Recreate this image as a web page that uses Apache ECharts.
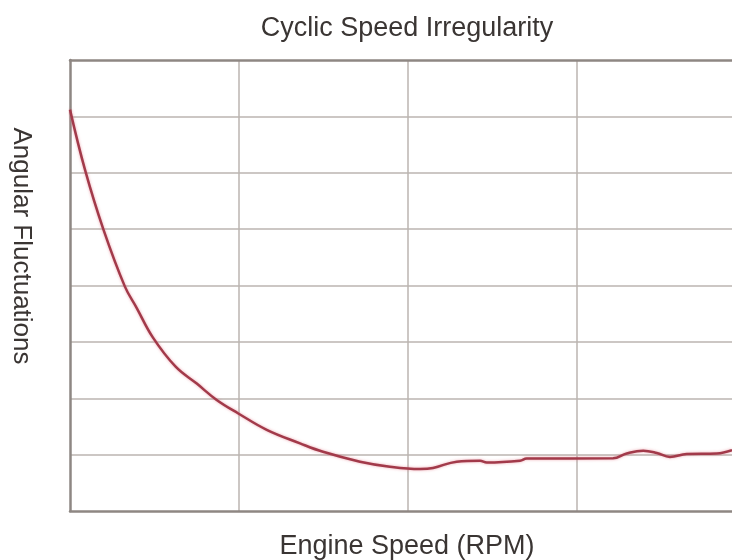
<!DOCTYPE html>
<html>
<head>
<meta charset="utf-8">
<script src="https://cdn.jsdelivr.net/npm/echarts@6/dist/echarts.min.js"></script>
<style>html,body{margin:0;padding:0;background:#fff}#c{width:732px;height:560px}</style>
</head>
<body>
<div id="c"></div>
<script>
// Engine speed (in grid divisions) and angular fluctuation (in grid divisions)
const engineSpeed = [0, 0.089, 0.197, 0.325, 0.395, 0.49, 0.625, 0.75, 0.868, 0.996, 1.164, 1.361, 1.497, 1.716, 1.893, 2.071, 2.148, 2.288, 2.426, 2.466, 2.663, 2.702, 3.213, 3.294, 3.392, 3.472, 3.55, 3.649, 3.827, 3.917];
const fluctuation = [7.12, 6.05, 5.0, 3.98, 3.6, 3.08, 2.56, 2.26, 1.97, 1.73, 1.44, 1.2, 1.05, 0.875, 0.786, 0.745, 0.763, 0.875, 0.892, 0.86, 0.892, 0.93, 0.935, 1.02, 1.07, 1.03, 0.96, 1.01, 1.02, 1.08];

const titleText = 'Cyclic Speed Irregularity';
const xName = 'Engine Speed (RPM)';
const yName = 'Angular Fluctuations';

const chart = echarts.init(document.getElementById('c'), null, {renderer: 'canvas'});
const font = 'Liberation Sans, Arial, Helvetica, sans-serif';
const borderStyle = {color: '#8e8783', width: 2.5};
const gridStyle = {color: '#bbb5b0', width: 1.5};
chart.setOption({
  backgroundColor: '#ffffff',
  animation: false,
  title: {
    text: titleText,
    left: 402,
    textAlign: 'center',
    top: 10,
    textStyle: {fontFamily: font, fontSize: 27, fontWeight: 'normal', color: '#3a3533'}
  },
  grid: {left: 70, right: 0, top: 60, bottom: 49, outerBoundsMode: 'none', containLabel: false},
  xAxis: [{
    type: 'value', min: 0, max: 3.917, interval: 1,
    name: xName, nameLocation: 'middle', nameGap: 22,
    nameTextStyle: {fontFamily: font, fontSize: 27, color: '#3a3533', padding: [0, 0, 0, 12]},
    axisLine: {show: true, lineStyle: borderStyle}, axisTick: {show: false}, axisLabel: {show: false},
    splitLine: {show: true, showMinLine: false, showMaxLine: false, lineStyle: gridStyle}
  }, {
    type: 'value', position: 'top', min: 0, max: 3.917,
    axisLine: {show: true, lineStyle: borderStyle}, axisTick: {show: false}, axisLabel: {show: false},
    splitLine: {show: false}
  }],
  yAxis: {
    type: 'value', min: 0, max: 8, interval: 1,
    name: yName, nameLocation: 'middle', nameGap: 36, nameRotate: -90,
    nameTextStyle: {fontFamily: font, fontSize: 26, color: '#3a3533', padding: [0, 79, 0, 0]},
    axisLine: {show: true, lineStyle: borderStyle}, axisTick: {show: false}, axisLabel: {show: false},
    splitLine: {show: true, showMinLine: false, showMaxLine: false, lineStyle: gridStyle}
  },
  series: [{
    type: 'line',
    data: engineSpeed.map((x, i) => [x, fluctuation[i]]),
    showSymbol: false,
    smooth: 0.4,
    z: 1,
    lineStyle: {color: '#a23a4a', width: 2.5, shadowColor: 'rgba(225,110,125,0.6)', shadowBlur: 3}
  }]
});
</script>
</body>
</html>
